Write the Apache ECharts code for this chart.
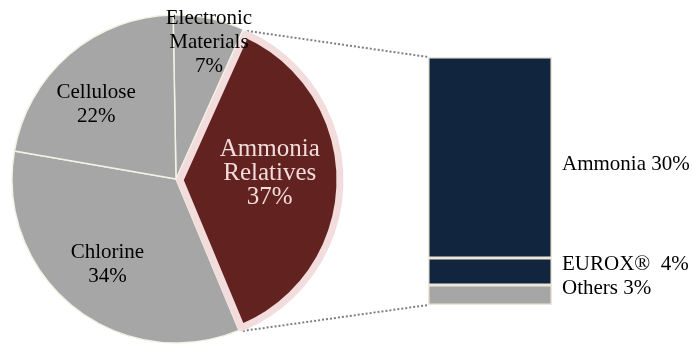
<!DOCTYPE html>
<html><head><meta charset="utf-8">
<script src="https://cdn.jsdelivr.net/npm/echarts@6/dist/echarts.min.js"></script>
<style>html,body{margin:0;padding:0;background:#fff}#c{width:692px;height:344px}</style>
</head><body><div id="c"></div>
<script>
// ---- data ----
const pieNames = ['Electronic\nMaterials', 'Ammonia\nRelatives', 'Chlorine', 'Cellulose'];
const pieValues = [7, 37, 34, 22];
const explodedIndex = 1;
const barNames = ['Others', 'EUROX® ', 'Ammonia'];
const barValues = [3, 4, 30];
const barCategory = ['Ammonia Relatives'];

// ---- style / layout ----
const FONT = 'Liberation Serif';
const START = 91;
const C1 = [176, 179], R1 = 164;
const C2 = [180, 180], R2 = 160;
const BW = 7;
const labelDist = [140, 90, 110, 109];
const labelAdj = [-2, 5, 0, 6.5];
const GRID_LEFT = 428, GRID_W = 124, GRID_TOP = 57, GRID_BOTTOM = 39;
const barColors = ['#a6a6a6', '#12253f', '#12253f'];
const barLabelOffset = [[0, -6], [0, -7], [0, 7]];

const total = pieValues.reduce((a, b) => a + b, 0);
const mids = [], starts = [], ends = [];
let acc = 0;
pieValues.forEach(v => {
  const s = START - acc / total * 360;
  const e = START - (acc + v) / total * 360;
  starts.push(s); ends.push(e); mids.push((s + e) / 2);
  acc += v;
});
const rad = d => d * Math.PI / 180;

function pieLabelPos(center, i) {
  const a = rad(mids[i] + labelAdj[i]);
  return { x: center[0] + labelDist[i] * Math.cos(a), y: center[1] - labelDist[i] * Math.sin(a),
           align: 'center', verticalAlign: 'middle' };
}

const pie1Data = pieNames.map((n, i) => ({
  name: n, value: pieValues[i],
  itemStyle: i === explodedIndex ? { color: 'rgba(0,0,0,0)', borderWidth: 0 } : { color: '#a6a6a6' },
  label: { show: i !== explodedIndex }
}));
const pie2Data = pieNames.map((n, i) => ({
  name: n, value: pieValues[i],
  itemStyle: i === explodedIndex ? { color: '#62221f', borderColor: '#f2dcdc', borderWidth: BW }
                                 : { color: 'rgba(0,0,0,0)', borderWidth: 0 },
  label: { show: i === explodedIndex }
}));

const chart = echarts.init(document.getElementById('c'), null, { renderer: 'canvas' });
const barSeries = barNames.map((n, i) => ({
  type: 'bar', name: n, stack: 'total', barWidth: '100%',
  data: [barValues[i]],
  itemStyle: { color: barColors[i], borderColor: '#ebe8da', borderWidth: 1.5 },
  label: { show: true, position: 'right', distance: 10, offset: barLabelOffset[i],
           formatter: '{a} {c}%', fontFamily: FONT, fontSize: 21, color: '#000' },
  silent: true
}));

chart.setOption({
  animation: false,
  backgroundColor: '#fff',
  grid: { left: GRID_LEFT, width: GRID_W, top: GRID_TOP, bottom: GRID_BOTTOM },
  xAxis: { type: 'category', data: barCategory, show: false },
  yAxis: { type: 'value', min: 0, max: barValues.reduce((a, b) => a + b, 0), show: false },
  series: [
    {
      type: 'pie', center: C1, radius: [0, R1], startAngle: START, clockwise: true,
      avoidLabelOverlap: false, silent: true,
      itemStyle: { borderColor: '#f2f2e6', borderWidth: 1.5 },
      label: { position: 'inside', formatter: '{b}\n{c}%', fontFamily: FONT, fontSize: 21,
               lineHeight: 24, color: '#000' },
      labelLine: { show: false },
      labelLayout: p => pieLabelPos(C1, p.dataIndex),
      data: pie1Data
    },
    {
      type: 'pie', center: C2, radius: [0, R2], startAngle: START, clockwise: true,
      avoidLabelOverlap: false, silent: true,
      label: { position: 'inside', formatter: '{b}\n{c}%', fontFamily: FONT, fontSize: 25,
               lineHeight: 24, color: '#f2dcdc' },
      labelLine: { show: false },
      labelLayout: p => pieLabelPos(C2, p.dataIndex),
      data: pie2Data
    }
  ].concat(barSeries)
});

// connectors from the exploded slice corners to the bar corners
const barTop = chart.convertToPixel({ yAxisIndex: 0 }, barValues.reduce((a, b) => a + b, 0));
const barBottom = chart.convertToPixel({ yAxisIndex: 0 }, 0);
const rr = R2 + BW / 2;
const pTop = [C2[0] + rr * Math.cos(rad(starts[explodedIndex])), C2[1] - rr * Math.sin(rad(starts[explodedIndex]))];
const pBot = [C2[0] + rr * Math.cos(rad(ends[explodedIndex])), C2[1] - rr * Math.sin(rad(ends[explodedIndex]))];
const lineStyle = { stroke: '#7f7f7f', lineWidth: 2, lineDash: [2, 2] };
chart.setOption({
  graphic: [
    { type: 'line', silent: true, z: -1, shape: { x1: pTop[0], y1: pTop[1], x2: GRID_LEFT, y2: barTop }, style: lineStyle },
    { type: 'line', silent: true, z: -1, shape: { x1: pBot[0], y1: pBot[1], x2: GRID_LEFT, y2: barBottom }, style: lineStyle }
  ]
});
</script>
</body></html>
